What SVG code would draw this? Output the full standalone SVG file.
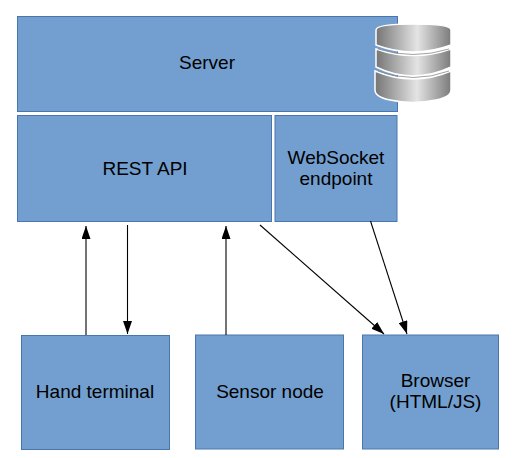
<svg xmlns="http://www.w3.org/2000/svg" width="522" height="458" viewBox="0 0 522 458">
<style>
.n{fill:#729fcf;stroke:#4a76b0;stroke-width:1}
.t{font-family:"Liberation Sans",Arial,sans-serif;font-size:19px;fill:#000;text-anchor:middle}
.c{stroke:#000;stroke-width:1.1;fill:none;marker-end:url(#a)}
.d{fill:url(#g);stroke:#fff;stroke-width:1.5}
.o{fill:none;stroke:#8a8a8a;stroke-width:.8}
</style>
<defs>
<marker id="a" viewBox="0 0 13 9" refX="13" refY="4.500" markerUnits="userSpaceOnUse" markerWidth="13" markerHeight="9" orient="auto"><path d="M0 0L13 4.500L0 9Z" fill="#000"/></marker>
<linearGradient id="g" x1="0" x2="1" y1="0" y2="0"><stop offset="0" stop-color="#757575"/><stop offset=".55" stop-color="#e4e4e4"/><stop offset="1" stop-color="#7b7b7b"/></linearGradient>
</defs>
<g id="server"><rect class="n" x="17.500" y="16.500" width="380" height="95"/><text class="t" x="207" y="69">Server</text></g>
<g id="database">
<path class="d" d="M375 71V90Q375 97 390 100Q413 105 436 100Q451 97 451 90V71Q413 87 375 71Z"/>
<path class="d" d="M376 49V67Q413 85 451 67V49Q413 62 376 49Z"/>
<path class="d" d="M376 30V45Q413 59 451 45V30Q451 24 413 24Q376 24 376 30Z"/>
<path class="o" d="M378 49Q413 60 449 49M378 71Q413 84 449 71"/>
</g>
<g id="rest-api"><rect class="n" x="17.500" y="115.500" width="254" height="106"/><text class="t" x="145" y="175">REST API</text></g>
<g id="websocket"><rect class="n" x="275" y="115.500" width="122" height="106"/><text class="t" x="336" y="164">WebSocket</text><text class="t" x="336" y="185">endpoint</text></g>
<g id="hand-terminal"><rect class="n" x="21.500" y="335.500" width="148" height="114"/><text class="t" x="95" y="398">Hand terminal</text></g>
<g id="sensor-node"><rect class="n" x="195.500" y="335" width="148" height="114"/><text class="t" x="270" y="398">Sensor node</text></g>
<g id="browser"><rect class="n" x="362.500" y="335" width="136" height="114"/><text class="t" x="435.500" y="387">Browser</text><text class="t" x="435.500" y="408">(HTML/JS)</text></g>
<g id="connectors">
<line class="c" x1="86" y1="335" x2="86" y2="226"/>
<line class="c" x1="127.500" y1="225" x2="127.500" y2="334"/>
<line class="c" x1="226" y1="335" x2="226" y2="226"/>
<line class="c" x1="260" y1="225" x2="384" y2="334"/>
<line class="c" x1="370.500" y1="221" x2="407" y2="334"/>
</g>
</svg>
